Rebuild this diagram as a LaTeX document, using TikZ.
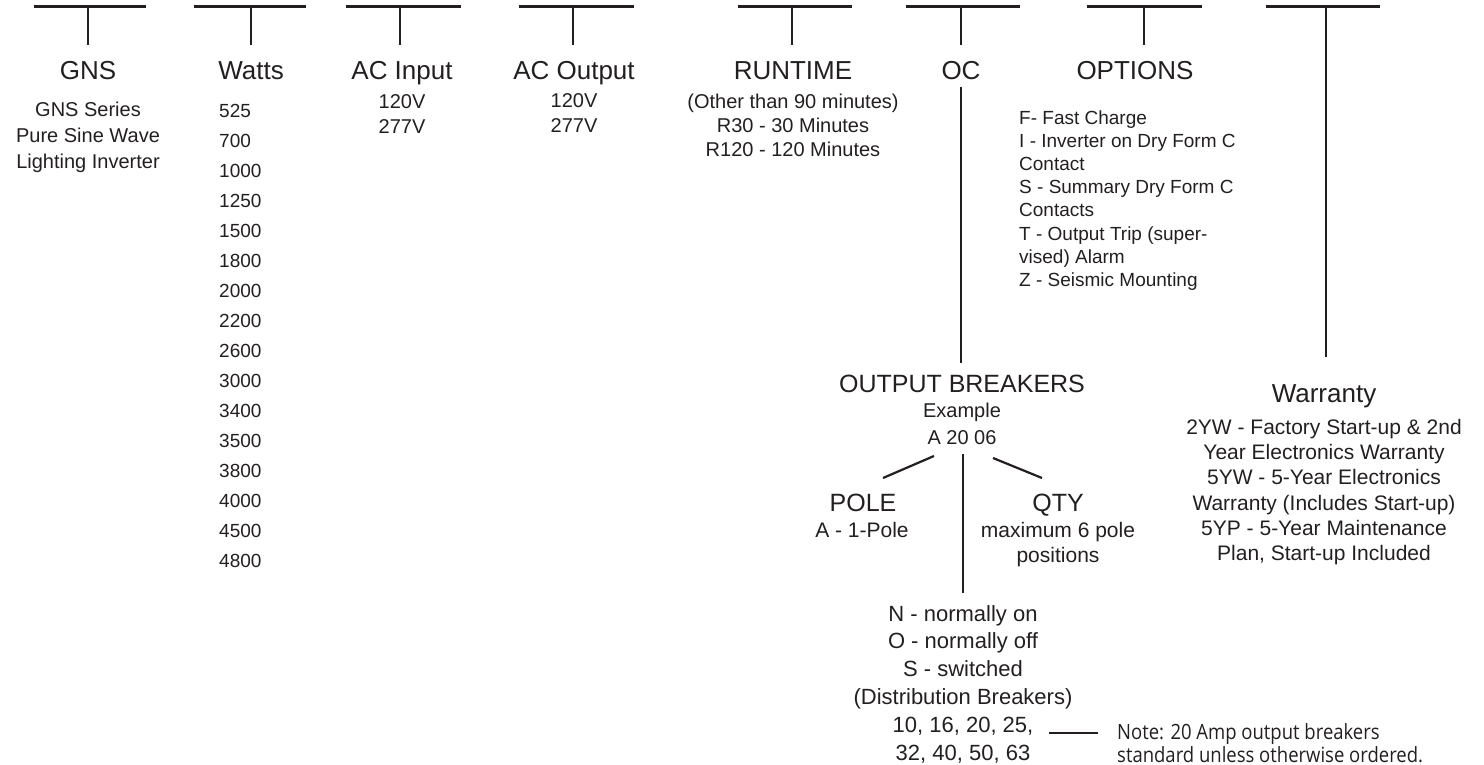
\documentclass[tikz,border=0pt]{standalone}
\usepackage{fontspec}
\setmainfont{Liberation Sans}
\newfontfamily\notefont[FakeStretch=0.88]{Open Sans}
\definecolor{ink}{HTML}{231F20}
\begin{document}
\begin{tikzpicture}[x=1pt,y=-1pt,
  rule/.style={draw=ink,line width=2.2pt},
  ttl/.style={font=\fontsize{26}{30}\selectfont,text=ink,anchor=base,inner sep=0pt},
  subttl/.style={font=\fontsize{25}{30}\selectfont,text=ink,anchor=base,inner sep=0pt},
  txt/.style={font=\fontsize{20}{25}\selectfont,text=ink,anchor=base,inner sep=0pt,align=center},
  lst/.style={text=ink,inner sep=0pt,align=left,anchor=base west},
  note/.style={font=\notefont\fontsize{21}{23}\selectfont,text=ink,inner sep=0pt,align=left,anchor=base west}]
\useasboundingbox (0,0) rectangle (1484,765);
% top bars and drops
\foreach \n/\l/\r/\v/\b in {gns/34/146/88/45, watts/194/306/251/45, acin/346/461/400/45,
  acout/519/634/573/45, run/738/852/792/45, oc/906/1020/961/45, opt/1087/1202/1144/45,
  war/1266/1380/1326/357}{
  \coordinate (\n L) at (\l,6.5);
  \coordinate (\n R) at (\r,6.5);
  \coordinate (\n T) at (\v,6.5);
  \coordinate (\n B) at (\v,\b);
  \draw[rule] (\n L) -- (\n R);
  \draw[rule] (\n T) -- (\n B);
}
% titles
\node[ttl] (tgns) at (88,80) {GNS};
\node[ttl] (twatts) at (251,80) {Watts};
\node[ttl] (tacin) at (402,80) {AC Input};
\node[ttl] (tacout) at (574,80) {AC Output};
\node[ttl] (trun) at (793,80) {RUNTIME};
\node[ttl] (toc) at (961,80) {OC};
\node[ttl] (topt) at (1135,80) {OPTIONS};
\node[ttl] (twar) at (1324,402) {Warranty};
% sub texts (anchor base = baseline of the last line)
\node[txt,font=\fontsize{20}{26}\selectfont] (dgns) at (88,169) {GNS Series\\Pure Sine Wave\\Lighting Inverter};
\node[lst,font=\fontsize{19}{30}\selectfont] (dwatts) at (219,567) {525\\700\\1000\\1250\\1500\\1800\\2000\\2200\\2600\\3000\\3400\\3500\\3800\\4000\\4500\\4800};
\node[txt] (dacin) at (402,134) {120V\\277V};
\node[txt] (dacout) at (574,133) {120V\\277V};
\node[txt,font=\fontsize{20}{24}\selectfont] (drun) at (793,157) {(Other than 90 minutes)\\R30 - 30 Minutes\\R120 - 120 Minutes};
\node[lst,font=\fontsize{19}{23.2}\selectfont] (dopt) at (1019,286.4) {F- Fast Charge\\I - Inverter on Dry Form C\\Contact\\S - Summary Dry Form C\\Contacts\\T - Output Trip (super-\\vised) Alarm\\Z - Seismic Mounting};
\node[txt,font=\fontsize{21}{25.2}\selectfont] (dwar) at (1324,560.5) {2YW - Factory Start-up \& 2nd\\Year Electronics Warranty\\5YW - 5-Year Electronics\\Warranty (Includes Start-up)\\5YP - 5-Year Maintenance\\Plan, Start-up Included};
% output breakers
\coordinate (ocB) at (961,87);
\node[subttl] (ob) at (962,392) {OUTPUT BREAKERS};
\coordinate (obT) at (961,363);
\draw[rule] (ocB) -- (obT);
\node[txt,font=\fontsize{20}{27}\selectfont] (ex) at (962,444) {Example\\A 20 06};
\coordinate (pl1) at (934,456); \coordinate (pl2) at (883,478);
\coordinate (ql1) at (993,458); \coordinate (ql2) at (1042,478);
\coordinate (mv1) at (963,454); \coordinate (mv2) at (963,593);
\draw[rule] (pl1) -- (pl2);
\draw[rule] (ql1) -- (ql2);
\draw[rule] (mv1) -- (mv2);
\node[subttl] (pole) at (863,511) {POLE};
\node[txt,font=\fontsize{21}{25}\selectfont] (dpole) at (862,537.5) {A - 1-Pole};
\node[subttl] (qty) at (1058,511) {QTY};
\node[txt,font=\fontsize{21}{25}\selectfont] (dqty) at (1058,562.5) {maximum 6 pole\\positions};
\node[txt,font=\fontsize{22}{27.8}\selectfont] (dist) at (963,760) {N - normally on\\O - normally off\\S - switched\\(Distribution Breakers)\\10, 16, 20, 25,\\32, 40, 50, 63};
\coordinate (nl1) at (1049,733); \coordinate (nl2) at (1098,733);
\draw[rule] (nl1) -- (nl2);
\node[note] (nt) at (1117,762) {Note: 20 Amp output breakers\\standard unless otherwise ordered.};
\end{tikzpicture}
\end{document}
